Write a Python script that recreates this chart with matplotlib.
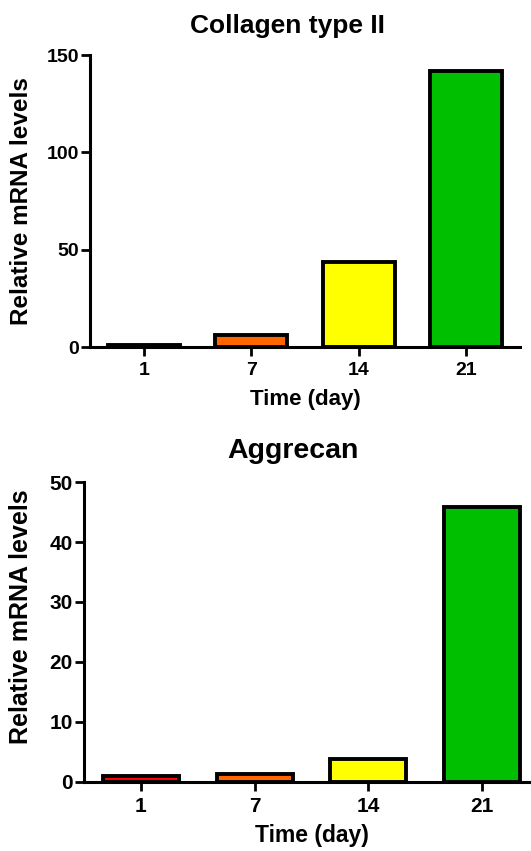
import numpy as np
import matplotlib
matplotlib.use("Agg")
import matplotlib.pyplot as plt

plt.rcParams['font.family'] = ['Liberation Sans', 'DejaVu Sans']
plt.rcParams['font.weight'] = 'bold'

# ======================== DATA ========================
days = ['1', '7', '14', '21']
bar_colors = ['#FF0000', '#FF6600', '#FFFF00', '#00BF00']

collagen_vals = [1.0, 6.0, 43.6, 141.8]
aggrecan_vals = [1.0, 1.35, 3.9, 45.9]

collagen_yticks = [0, 50, 100, 150]
aggrecan_yticks = [0, 10, 20, 30, 40, 50]

# ======================== FIGURE ========================
fig = plt.figure(figsize=(5.31, 8.51), dpi=100)

ax1 = fig.add_axes([0.1695, 0.5922, 0.8098, 0.3431])
ax2 = fig.add_axes([0.1582, 0.0811, 0.8569, 0.3525])


def style_panel(ax, vals, yticks, title, tick_fs, title_fs, label_fs, title_pad, ylab_x, ylab_y):
    x = np.arange(len(vals))
    ax.bar(x, vals, width=0.67, color=bar_colors, edgecolor='black', linewidth=2.8, zorder=3)

    ax.set_xlim(-0.5, len(vals) - 0.5)
    ax.set_ylim(yticks[0], yticks[-1])
    ax.set_xticks(x)
    ax.set_xticklabels(days)
    ax.set_yticks(yticks)

    for s in ['top', 'right']:
        ax.spines[s].set_visible(False)
    for s in ['left', 'bottom']:
        ax.spines[s].set_linewidth(2.2)

    ax.tick_params(axis='both', length=6.5, width=2, labelsize=tick_fs)
    ax.tick_params(axis='x', pad=4)
    ax.tick_params(axis='y', pad=1.5)

    ax.set_title(title, fontsize=title_fs, fontweight='bold', x=0.46, pad=title_pad)
    ax.set_ylabel('Relative mRNA levels', fontsize=label_fs, fontweight='bold')
    ax.set_xlabel('Time (day)', fontsize=label_fs - 1.5, fontweight='bold')
    ax.yaxis.set_label_coords(ylab_x, ylab_y)


style_panel(ax1, collagen_vals, collagen_yticks, 'Collagen type II',
            14, 19, 17.5, 16, -0.133, 0.5)
ax1.xaxis.set_label_coords(0.5, -0.145)
ax1.xaxis.label.set_va('top')

style_panel(ax2, aggrecan_vals, aggrecan_yticks, 'Aggrecan',
            15, 20.5, 18, 17, -0.112, 0.55)
ax2.xaxis.set_label_coords(0.5, -0.14)
ax2.xaxis.label.set_va('top')

fig.savefig('out.png', dpi=100)
